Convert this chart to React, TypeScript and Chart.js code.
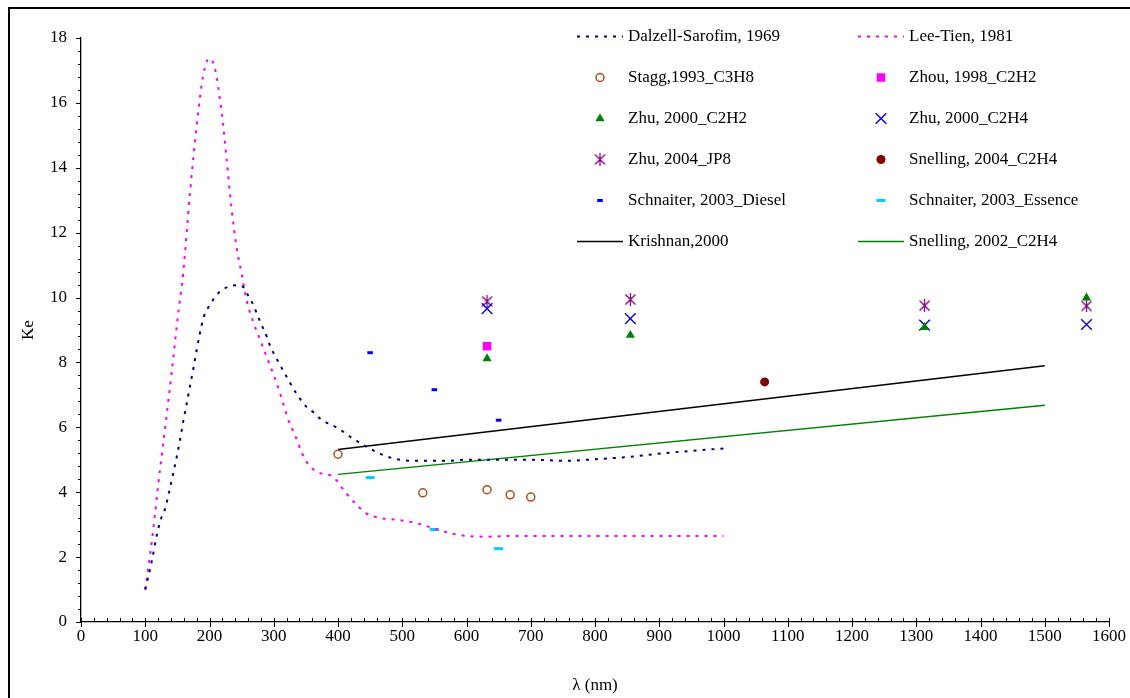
import React, { useEffect, useRef } from 'react';
import { Chart, registerables } from 'chart.js';
import { drawPoint } from 'chart.js/helpers';

Chart.register(...registerables);

const FONT = '"Liberation Serif", "Times New Roman", serif';

// ---- Data ----
const dalzellX = [100, 110, 118, 124, 131, 137, 143.5, 149, 154, 159, 164, 169.5, 175, 180, 185, 191, 196, 207, 216, 229, 243, 252, 260, 267, 278, 289, 294, 307, 320, 335, 351, 364, 372, 400, 423, 449, 481, 517, 569, 600, 703, 755, 802, 854, 905, 1000];
const dalzellY = [1.0, 1.86, 2.68, 3.15, 3.5, 4.0, 4.58, 5.09, 5.6, 6.17, 6.68, 7.25, 7.82, 8.38, 8.89, 9.4, 9.62, 9.97, 10.18, 10.33, 10.38, 10.33, 10.07, 9.82, 9.3, 8.8, 8.53, 8.02, 7.56, 7.05, 6.63, 6.43, 6.27, 5.97, 5.66, 5.35, 5.07, 4.97, 4.97, 5.0, 5.0, 4.97, 5.02, 5.09, 5.2, 5.35];

const leeX = [100, 110, 115, 120, 125.5, 131, 136, 141, 145.5, 150, 159, 169.5, 181, 190, 199.5, 208, 219, 226.5, 234, 242, 250, 258, 268, 278, 289, 299, 309, 322, 333, 343, 351, 360, 371, 392, 413, 444, 465, 496, 527, 558, 589, 631, 672, 1000];
const leeY = [1.0, 2.45, 3.3, 4.2, 5.1, 6.0, 6.84, 7.66, 8.48, 9.3, 10.75, 13.2, 15.47, 16.83, 17.37, 17.1, 15.7, 14.3, 12.8, 11.56, 10.74, 9.9, 9.25, 8.74, 8.17, 7.66, 7.1, 6.27, 5.76, 5.25, 4.94, 4.73, 4.6, 4.48, 3.96, 3.35, 3.21, 3.14, 3.02, 2.83, 2.68, 2.63, 2.65, 2.65];

const staggX = [400, 532, 632, 668, 700];
const staggY = [5.17, 3.98, 4.08, 3.92, 3.85];

const zhouX = [632];
const zhouY = [8.5];

const zhuC2H2X = [632, 855, 1313, 1565];
const zhuC2H2Y = [8.12, 8.84, 9.08, 9.99];

const zhuC2H4X = [632, 855, 1313, 1565];
const zhuC2H4Y = [9.66, 9.35, 9.15, 9.17];

const zhuJP8X = [632, 855, 1313, 1565];
const zhuJP8Y = [9.88, 9.94, 9.75, 9.74];

const snelling2004X = [1064];
const snelling2004Y = [7.4];

const dieselX = [450, 550, 650];
const dieselY = [8.3, 7.16, 6.22];

const essenceX = [450, 550, 650];
const essenceY = [4.45, 2.85, 2.26];

const krishnanX = [400, 1500];
const krishnanY = [5.32, 7.9];

const snelling2002X = [400, 1500];
const snelling2002Y = [4.55, 6.68];

const labels = [
  'Dalzell-Sarofim, 1969',
  'Lee-Tien, 1981',
  'Stagg,1993_C3H8',
  'Zhou, 1998_C2H2',
  'Zhu, 2000_C2H2',
  'Zhu, 2000_C2H4',
  'Zhu, 2004_JP8',
  'Snelling, 2004_C2H4',
  'Schnaiter, 2003_Diesel',
  'Schnaiter, 2003_Essence',
  'Krishnan,2000',
  'Snelling, 2002_C2H4',
];

const xMin = 0, xMax = 1600, xStep = 100, xMinor = 20;
const yMin = 0, yMax = 18, yStep = 2, yMinor = 0.4;

function pts(xs: number[], ys: number[]) {
  return xs.map((x, i) => ({ x, y: ys[i] }));
}

function makeAsterisk(color: string) {
  const c = document.createElement('canvas');
  c.width = 13;
  c.height = 13;
  const g = c.getContext('2d')!;
  g.strokeStyle = color;
  g.lineWidth = 1.3;
  g.beginPath();
  g.moveTo(1.5, 1.5); g.lineTo(11.5, 11.5);
  g.moveTo(11.5, 1.5); g.lineTo(1.5, 11.5);
  g.moveTo(6.5, 0); g.lineTo(6.5, 13);
  g.stroke();
  return c;
}

const tickPlugin = {
  id: 'axisTicks',
  afterDraw(chart: any) {
    const { ctx, chartArea, scales } = chart;
    const xs = scales.x, ys = scales.y;
    ctx.save();
    ctx.strokeStyle = '#000';
    ctx.lineWidth = 1;
    const nx = Math.round((xMax - xMin) / xMinor);
    for (let i = 0; i <= nx; i++) {
      const v = xMin + i * xMinor;
      const px = Math.round(xs.getPixelForValue(v)) + 0.5;
      const major = i % Math.round(xStep / xMinor) === 0;
      ctx.beginPath();
      ctx.moveTo(px, chartArea.bottom - 4);
      ctx.lineTo(px, chartArea.bottom + (major ? 5 : 0));
      ctx.stroke();
    }
    const ny = Math.round((yMax - yMin) / yMinor);
    for (let i = 0; i <= ny; i++) {
      const v = yMin + i * yMinor;
      const py = Math.round(ys.getPixelForValue(v)) + 0.5;
      const major = i % Math.round(yStep / yMinor) === 0;
      ctx.beginPath();
      ctx.moveTo(chartArea.left - (major ? 5 : 3), py);
      ctx.lineTo(chartArea.left, py);
      ctx.stroke();
    }
    ctx.restore();
  },
};

const legendPlugin = {
  id: 'gridLegend',
  afterDraw(chart: any, _args: any, opts: any) {
    const { ctx } = chart;
    ctx.save();
    ctx.font = `${opts.fontSize}px ${FONT}`;
    ctx.textBaseline = 'middle';
    ctx.textAlign = 'left';
    chart.data.datasets.forEach((ds: any, i: number) => {
      const col = i % 2;
      const row = Math.floor(i / 2);
      const x0 = opts.colX[col];
      const y = opts.top + row * opts.rowGap;
      const w = opts.sampleWidth;
      if (ds.showLine) {
        ctx.save();
        ctx.strokeStyle = ds.borderColor;
        ctx.lineWidth = ds.borderWidth;
        ctx.setLineDash(ds.borderDash || []);
        ctx.beginPath();
        ctx.moveTo(x0, y);
        ctx.lineTo(x0 + w, y);
        ctx.stroke();
        ctx.restore();
      } else {
        ctx.save();
        ctx.fillStyle = ds.pointBackgroundColor;
        ctx.strokeStyle = ds.pointBorderColor;
        ctx.lineWidth = ds.pointBorderWidth;
        drawPoint(ctx, {
          pointStyle: ds.pointStyle,
          rotation: 0,
          radius: ds.pointRadius,
          borderWidth: ds.pointBorderWidth,
        } as any, x0 + w / 2, y);
        ctx.restore();
      }
      ctx.fillStyle = '#000';
      ctx.fillText(ds.label, x0 + w + 5, y);
    });
    ctx.restore();
  },
};

export default function App() {
  const ref = useRef<HTMLCanvasElement | null>(null);

  useEffect(() => {
    if (!ref.current) return;
    const lineDs = (label: string, xs: number[], ys: number[], color: string, width: number, dash: number[], mono: boolean) => ({
      label,
      data: pts(xs, ys),
      showLine: true,
      borderColor: color,
      backgroundColor: color,
      borderWidth: width,
      borderDash: dash,
      pointRadius: 0,
      pointHoverRadius: 0,
      cubicInterpolationMode: mono ? 'monotone' : 'default',
      tension: 0,
    });
    const ptDs = (label: string, xs: number[], ys: number[], style: any, radius: number, fill: string, stroke: string, bw: number) => ({
      label,
      data: pts(xs, ys),
      showLine: false,
      pointStyle: style,
      pointRadius: radius,
      pointHoverRadius: radius,
      pointBackgroundColor: fill,
      pointBorderColor: stroke,
      pointBorderWidth: bw,
      backgroundColor: fill,
      borderColor: stroke,
    });

    const star = makeAsterisk('#800080');
    const plain = (v: any) => String(v);

    const chart = new Chart(ref.current, {
      type: 'scatter',
      data: {
        datasets: [
          lineDs(labels[0], dalzellX, dalzellY, '#000080', 2, [3, 6], true),
          lineDs(labels[1], leeX, leeY, '#FF00FF', 2, [3, 6], true),
          ptDs(labels[2], staggX, staggY, 'circle', 4, 'rgba(0,0,0,0)', '#B14E1E', 1.5),
          ptDs(labels[3], zhouX, zhouY, 'rect', 6, '#FF00FF', '#FF00FF', 0),
          ptDs(labels[4], zhuC2H2X, zhuC2H2Y, 'triangle', 5.3, '#008000', '#008000', 0),
          ptDs(labels[5], zhuC2H4X, zhuC2H4Y, 'crossRot', 7.5, '#0000FF', '#0000FF', 1.4),
          ptDs(labels[6], zhuJP8X, zhuJP8Y, star, 6, '#800080', '#800080', 1.3),
          ptDs(labels[7], snelling2004X, snelling2004Y, 'circle', 4.5, '#800000', '#800000', 0),
          ptDs(labels[8], dieselX, dieselY, 'line', 2.8, '#0000FF', '#0000FF', 3),
          ptDs(labels[9], essenceX, essenceY, 'line', 4.5, '#00CCFF', '#00CCFF', 3),
          lineDs(labels[10], krishnanX, krishnanY, '#000000', 1.5, [], false),
          lineDs(labels[11], snelling2002X, snelling2002Y, '#008000', 1.5, [], false),
        ] as any,
      },
      options: {
        responsive: false,
        animation: false,
        devicePixelRatio: 1,
        events: [],
        layout: { padding: { top: 38, right: 20, left: 0, bottom: 0 } },
        plugins: {
          legend: { display: false },
          tooltip: { enabled: false },
          gridLegend: { colX: [577, 858], top: 36.5, rowGap: 41, sampleWidth: 46, fontSize: 17 },
        } as any,
        scales: {
          x: {
            type: 'linear',
            min: xMin,
            max: xMax,
            afterFit: (s: any) => { s.height = 76; },
            ticks: { stepSize: xStep, autoSkip: false, maxRotation: 0, padding: 4, color: '#000', font: { family: FONT, size: 17 }, callback: plain },
            grid: { display: true, drawOnChartArea: false, drawTicks: false },
            border: { display: true, color: '#000', width: 1.3 },
            title: { display: true, text: 'λ (nm)', color: '#000', font: { family: FONT, size: 17 }, padding: { top: 0, bottom: 2 } },
          },
          y: {
            type: 'linear',
            min: yMin,
            max: yMax,
            afterFit: (s: any) => { s.width = 81; },
            ticks: { stepSize: yStep, autoSkip: false, padding: 14, color: '#000', font: { family: FONT, size: 17 }, callback: plain },
            grid: { display: true, drawOnChartArea: false, drawTicks: false },
            border: { display: true, color: '#000', width: 1.3 },
            title: { display: true, text: 'Ke', color: '#000', font: { family: FONT, size: 17 }, padding: { top: 18, bottom: 0 } },
          },
        } as any,
      },
      plugins: [tickPlugin, legendPlugin],
    });
    return () => chart.destroy();
  }, []);

  return (
    <div style={{ position: 'relative', width: 1130, height: 698, overflow: 'hidden', background: '#fff' }}>
      <style>{`html,body{margin:0;padding:0;overflow:hidden;background:#fff}`}</style>
      <div style={{ position: 'absolute', left: 8, top: 7, width: 1200, height: 800, border: '2px solid #000', boxSizing: 'border-box' }} />
      <canvas ref={ref} width={1130} height={698} style={{ position: 'absolute', left: 0, top: 0, width: 1130, height: 698 }} />
    </div>
  );
}
